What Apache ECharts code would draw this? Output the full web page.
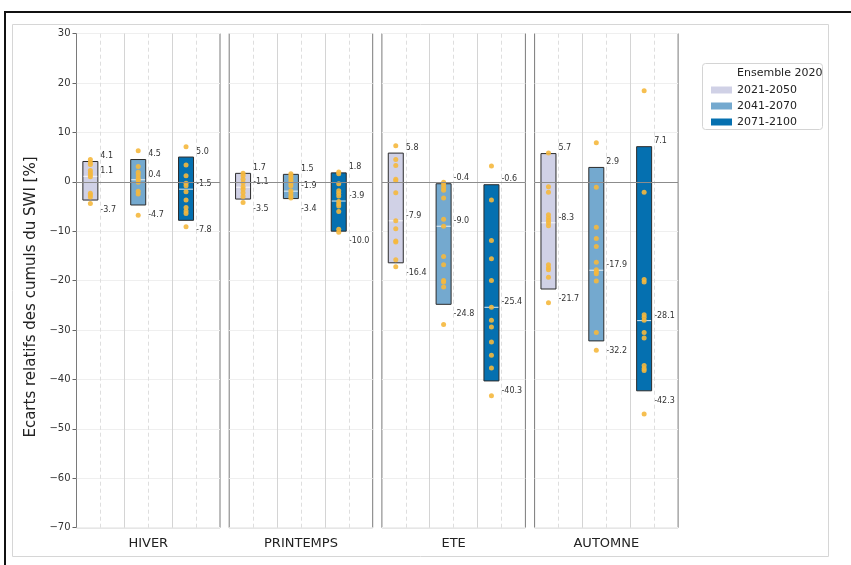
<!DOCTYPE html>
<html>
<head>
<meta charset="utf-8">
<script src="https://cdn.jsdelivr.net/npm/echarts@6/dist/echarts.min.js"></script>
<style>html,body{margin:0;padding:0;background:#fff;}#c{width:851px;height:565px;}</style>
</head>
<body>
<div id="c"></div>
<script>
const seasons = ['HIVER', 'PRINTEMPS', 'ETE', 'AUTOMNE'];
const periods = ['2021-2050', '2041-2070', '2071-2100'];
const yTicks = [30, 20, 10, 0, -10, -20, -30, -40, -50, -60, -70];

// box limits per season: [2021-2050, 2041-2070, 2071-2100]
const boxMax = [[4.1, 4.5, 5.0], [1.7, 1.5, 1.8], [5.8, -0.4, -0.6], [5.7, 2.9, 7.1]];
const boxMed = [[1.1, 0.4, -1.5], [-1.1, -1.9, -3.9], [-7.9, -9.0, -25.4], [-8.3, -17.9, -28.1]];
const boxMin = [[-3.7, -4.7, -7.8], [-3.5, -3.4, -10.0], [-16.4, -24.8, -40.3], [-21.7, -32.2, -42.3]];

// individual model values
const dotsHiver = [
  [4.5, 3.9, 3.5, 2.3, 1.8, 1.4, 1.0, -2.3, -2.7, -3.1, -4.4],
  [6.3, 3.1, 1.9, 1.4, 0.8, 0.4, -0.1, -1.9, -2.5, -6.8],
  [7.1, 3.4, 1.2, -0.3, -0.8, -2.0, -3.7, -5.2, -5.9, -6.4, -9.1]
];
const dotsPrintemps = [
  [1.7, 1.2, 0.5, -0.2, -1.0, -1.5, -2.2, -3.0, -4.2],
  [1.6, 1.2, 0.7, 0.2, -0.3, -0.8, -1.8, -2.3, -2.9, -3.3],
  [2.0, 1.6, -0.4, -1.8, -2.3, -2.9, -4.0, -4.5, -4.9, -6.0, -9.6, -10.2]
];
const dotsEte = [
  [7.3, 4.5, 3.3, 0.5, 0.2, -2.2, -7.9, -9.5, -12.0, -12.2, -15.8, -17.2],
  [-0.1, -0.6, -1.2, -1.7, -3.3, -7.6, -9.0, -15.1, -16.8, -20.0, -20.3, -21.3, -28.9],
  [3.2, -3.7, -11.9, -15.6, -20.0, -25.4, -28.0, -29.4, -32.4, -35.1, -37.7, -43.3]
];
const dotsAutomne = [
  [5.8, -1.0, -2.1, -6.7, -7.3, -7.8, -8.3, -8.9, -16.8, -17.4, -17.8, -19.3, -24.5],
  [7.9, -1.1, -9.2, -11.5, -13.1, -16.3, -17.8, -18.2, -18.6, -20.1, -30.5, -34.1],
  [18.4, -2.1, -19.8, -20.3, -26.9, -27.4, -28.0, -30.5, -31.6, -37.2, -37.8, -38.2, -47.0]
];
const allDots = [dotsHiver, dotsPrintemps, dotsEte, dotsAutomne];

const periodColors = ['#d0d1e6', '#74a9cf', '#0570b0'];
const dotColor = '#f5b83d';
const BOX_OFF = 0.29;   // box position inside each period column
const panelLeft = [76.5, 229.2, 381.9, 534.6];
const panelW = 143.5;

const chart = echarts.init(document.getElementById('c'), null, {renderer: 'canvas'});
const grids = [], xAxes = [], yAxes = [], series = [];
const minus = s => String(s).replace('-', '\u2212');

seasons.forEach((s, g) => {
  grids.push({left: panelLeft[g], width: panelW, top: 33.5, bottom: 37.3,
    show: true, borderColor: '#7a7a7a', borderWidth: 1, backgroundColor: 'transparent'});
  xAxes.push({type: 'value', gridIndex: g, min: 0, max: 3, interval: 1,
    axisLine: {show: false}, axisTick: {show: false}, axisLabel: {show: false}, splitLine: {show: false},
    name: s, nameLocation: 'middle', nameGap: 9,
    nameTextStyle: {fontFamily: 'DejaVu Sans', fontSize: 13, color: '#222'}});
  yAxes.push({type: 'value', gridIndex: g, min: -70, max: 30, interval: 10,
    axisLine: {show: false},
    axisTick: {show: g === 0, length: 4, lineStyle: {color: '#666'}},
    axisLabel: {show: g === 0, fontFamily: 'DejaVu Sans', fontSize: 10, color: '#333', margin: 6,
      formatter: v => minus(v)},
    splitLine: {show: true, lineStyle: {color: '#efefef', width: 1}}});

  // reference lines
  series.push({type: 'line', xAxisIndex: g, yAxisIndex: g, data: [], z: 1, silent: true,
    markLine: {silent: true, symbol: 'none', animation: false, label: {show: false},
      data: [
        {xAxis: 1, lineStyle: {color: '#d4d4d4', type: 'solid', width: 1}},
        {xAxis: 2, lineStyle: {color: '#d4d4d4', type: 'solid', width: 1}},
        {xAxis: 0.5, lineStyle: {color: '#dedede', type: [4, 3], width: 1}},
        {xAxis: 1.5, lineStyle: {color: '#dedede', type: [4, 3], width: 1}},
        {xAxis: 2.5, lineStyle: {color: '#dedede', type: [4, 3], width: 1}},
        {yAxis: 0, lineStyle: {color: '#8c8c8c', type: 'solid', width: 1}}
      ]}});

  periods.forEach((p, k) => {
    series.push({
      type: 'custom', name: p, xAxisIndex: g, yAxisIndex: g, z: 3,
      itemStyle: {color: periodColors[k]},
      data: [[k + BOX_OFF, boxMin[g][k], boxMed[g][k], boxMax[g][k]]],
      encode: {x: 0, y: [1, 2, 3]},
      renderItem: (params, api) => {
        const x = api.value(0);
        const pMin = api.coord([x, api.value(1)]);
        const pMed = api.coord([x, api.value(2)]);
        const pMax = api.coord([x, api.value(3)]);
        const hw = 7.5;
        const cx = pMin[0];
        const tx = cx + 10;
        const ts = {fontFamily: 'DejaVu Sans', fontSize: 8, fill: '#333', align: 'left', verticalAlign: 'middle'};
        return {type: 'group', children: [
          {type: 'rect', shape: {x: cx - hw, y: pMax[1], width: 2 * hw, height: pMin[1] - pMax[1]},
            style: {fill: periodColors[k], stroke: '#2b2b2b', lineWidth: 1}},
          {type: 'line', shape: {x1: cx - hw + 0.5, y1: pMed[1], x2: cx + hw - 0.5, y2: pMed[1]},
            style: {stroke: 'rgba(255,255,255,0.85)', lineWidth: 1}},
          {type: 'text', style: Object.assign({}, ts, {text: api.value(3).toFixed(1), x: tx, y: pMax[1] - 5.5})},
          {type: 'text', style: Object.assign({}, ts, {text: api.value(2).toFixed(1), x: tx, y: pMed[1] - 5})},
          {type: 'text', style: Object.assign({}, ts, {text: api.value(1).toFixed(1), x: tx, y: pMin[1] + 10})}
        ]};
      }
    });
    series.push({
      type: 'scatter', xAxisIndex: g, yAxisIndex: g, z: 4, silent: true,
      symbolSize: 5, itemStyle: {color: dotColor, opacity: 0.9},
      data: allDots[g][k].map(v => [k + BOX_OFF, v])
    });
  });
});

const option = {
  animation: false,
  backgroundColor: '#fff',
  grid: grids, xAxis: xAxes, yAxis: yAxes, series: series,
  legend: {
    left: 706, top: 77, orient: 'vertical', itemWidth: 21, itemHeight: 7, itemGap: 0,
    icon: 'rect', selectedMode: false,
    textStyle: {fontFamily: 'DejaVu Sans', fontSize: 11, color: '#222', lineHeight: 16},
    data: periods.map((p, k) => ({name: p, icon: 'rect', itemStyle: {color: periodColors[k], borderWidth: 0}}))
  },
  graphic: [
    {type: 'rect', z: -10, silent: true, shape: {x: 12.5, y: 24.5, width: 816, height: 532},
      style: {fill: 'none', stroke: '#d6d6d6', lineWidth: 1}},
    {type: 'line', z: 10, silent: true, shape: {x1: 4, y1: 12, x2: 851, y2: 12}, style: {stroke: '#111', lineWidth: 2}},
    {type: 'line', z: 10, silent: true, shape: {x1: 5, y1: 11, x2: 5, y2: 565}, style: {stroke: '#111', lineWidth: 2}},
    {type: 'rect', z: 0, silent: true, shape: {x: 702.5, y: 63.5, width: 120, height: 66, r: 3},
      style: {fill: '#fff', stroke: '#d4d4d4', lineWidth: 1}},
    {type: 'text', z: 5, silent: true, style: {text: 'Ensemble 2020', x: 737, y: 73,
      fontFamily: 'DejaVu Sans', fontSize: 11, fill: '#222', align: 'left', verticalAlign: 'middle'}},
    {type: 'text', z: 5, silent: true, x: 31, y: 297, rotation: Math.PI / 2,
      style: {text: 'Ecarts relatifs des cumuls du SWI [%]', x: 0, y: 0,
        fontFamily: 'DejaVu Sans', fontSize: 15, fill: '#222', align: 'center', verticalAlign: 'middle'}}
  ]
};
chart.setOption(option);
</script>
</body>
</html>
